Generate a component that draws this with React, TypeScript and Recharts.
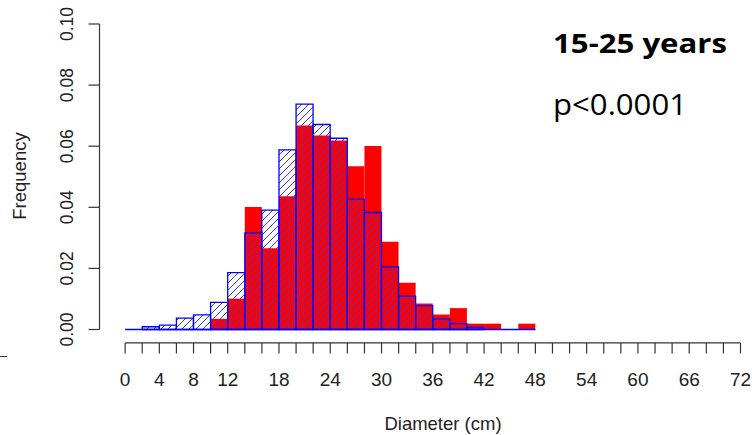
import { BarChart, Bar, XAxis, YAxis, ReferenceLine } from "recharts";

// histogram bins (cm), lower edges, 2 cm wide
const binLow = [0, 2, 4, 6, 8, 10, 12, 14, 16, 18, 20, 22, 24, 26, 28, 30, 32, 34, 36, 38, 40, 42, 44, 46];
const binWidth = 2;

// hatched blue histogram
const hatchedFreq = [
  0, 0.0009, 0.0014, 0.0037, 0.0048, 0.0089, 0.0186, 0.0316, 0.0391, 0.0588, 0.0738, 0.0671,
  0.0626, 0.0427, 0.0383, 0.0205, 0.0109, 0.0078, 0.0035, 0.0019, 0.0007, 0, 0, 0,
];
// solid red histogram
const solidFreq = [
  0, 0, 0, 0, 0, 0.0035, 0.0101, 0.0401, 0.0266, 0.0436, 0.0668, 0.0635,
  0.0619, 0.0534, 0.0601, 0.0287, 0.0153, 0.0085, 0.0049, 0.007, 0.0019, 0.0019, 0, 0.0019,
];

const xTicks = [0, 2, 4, 6, 8, 10, 12, 14, 16, 18, 20, 22, 24, 26, 28, 30, 32, 34, 36, 38, 40, 42, 44, 46, 48, 50, 52, 54, 56, 58, 60, 62, 64, 66, 68, 70, 72];
const xLabels = [0, 4, 8, 12, 18, 24, 30, 36, 42, 48, 54, 60, 66, 72];
const yTicks = [0, 0.02, 0.04, 0.06, 0.08, 0.1];

const data = binLow.map((low, i) => ({
  mid: low + binWidth / 2,
  hatched: hatchedFreq[i],
  solid: solidFreq[i],
}));

const font = "'Liberation Sans', Arial, sans-serif";
const ink = "#222";
const axisY = -0.0044; // R draws the x axis a little below zero

function XTick({ x, y, payload }: any) {
  const v = payload.value;
  return (
    <g>
      <line x1={x} x2={x} y1={y + 13.5} y2={y + 24} stroke="#333" strokeWidth={1.2} />
      {xLabels.includes(v) && (
        <text x={x} y={y + 56.5} textAnchor="middle" fontSize={19} fill={ink} fontFamily={font}>
          {v}
        </text>
      )}
    </g>
  );
}

function YTick({ x, y, payload }: any) {
  const cx = x - 15.2;
  return (
    <text
      transform={`translate(${cx},${y}) rotate(-90)`}
      textAnchor="middle"
      fontSize={17.5}
      fill={ink}
      fontFamily={font}
    >
      {payload.value.toFixed(2)}
    </text>
  );
}

export default function App() {
  return (
    <div style={{ position: "absolute", left: 0, top: 0, width: 752, height: 435, background: "#fff" }}>
      <svg width={0} height={0} style={{ position: "absolute" }}>
        <defs>
          <pattern id="hatch" patternUnits="userSpaceOnUse" width={7} height={7}>
            <path d="M0,7 L7,0 M-2,2 L2,-2 M5,9 L9,5" stroke="#3a3aff" strokeWidth={1} />
          </pattern>
        </defs>
      </svg>
      <BarChart
        width={752}
        height={435}
        data={data}
        margin={{ top: 24, right: 11.5, bottom: 45.5, left: 59.5 }}
        barCategoryGap={0}
        barGap={0}
      >
        <XAxis
          xAxisId="a"
          dataKey="mid"
          type="number"
          domain={[-3, 72]}
          ticks={xTicks}
          interval={0}
          height={60}
          axisLine={false}
          tickLine={false}
          tickSize={0}
          tickMargin={0}
          tick={<XTick />}
          label={{
            content: () => (
              <text x={443} y={430} textAnchor="middle" fontSize={18.5} fill={ink} fontFamily={font}>
                Diameter (cm)
              </text>
            ),
          }}
        />
        <XAxis xAxisId="b" dataKey="mid" type="number" domain={[-3, 72]} hide />
        <YAxis
          type="number"
          domain={[0, 0.1]}
          ticks={yTicks}
          interval={0}
          width={40}
          axisLine={{ stroke: "#333", strokeWidth: 1.2 }}
          tickLine={{ stroke: "#333", strokeWidth: 1.2 }}
          tickSize={11}
          tickMargin={0}
          tick={<YTick />}
          label={{
            content: () => (
              <text
                transform="translate(25.7,176) rotate(-90)"
                textAnchor="middle"
                fontSize={18.5}
                fill={ink}
                fontFamily={font}
              >
                Frequency
              </text>
            ),
          }}
        />
        <Bar xAxisId="a" dataKey="solid" fill="#ff0000" isAnimationActive={false} />
        <Bar
          xAxisId="b"
          dataKey="hatched"
          fill="url(#hatch)"
          stroke="#0000ff"
          strokeWidth={1.3}
          isAnimationActive={false}
        />
        <ReferenceLine
          xAxisId="a"
          segment={[
            { x: binLow[0], y: 0 },
            { x: binLow[binLow.length - 1] + binWidth, y: 0 },
          ]}
          stroke="#0000ff"
          strokeWidth={1.3}
          ifOverflow="visible"
        />
        <ReferenceLine
          xAxisId="a"
          segment={[
            { x: xTicks[0], y: axisY },
            { x: xTicks[xTicks.length - 1], y: axisY },
          ]}
          stroke="#333"
          strokeWidth={1.2}
          ifOverflow="visible"
        />
      </BarChart>
      <svg width={752} height={435} style={{ position: "absolute", left: 0, top: 0, pointerEvents: "none" }}>
        <text
          x={553}
          y={53}
          fontSize={26}
          fontWeight="bold"
          fontFamily="'Open Sans', sans-serif"
          fill="#000"
          textLength={174}
          lengthAdjust="spacingAndGlyphs"
        >
          15-25 years
        </text>
        <text
          x={553}
          y={115}
          fontSize={29}
          fontFamily="'Open Sans', sans-serif"
          fill="#000"
          textLength={134}
          lengthAdjust="spacingAndGlyphs"
        >
          p&lt;0.0001
        </text>
      </svg>
      <div style={{ position: "absolute", left: 0, top: 356, width: 7, height: 1, background: "#333" }} />
    </div>
  );
}
